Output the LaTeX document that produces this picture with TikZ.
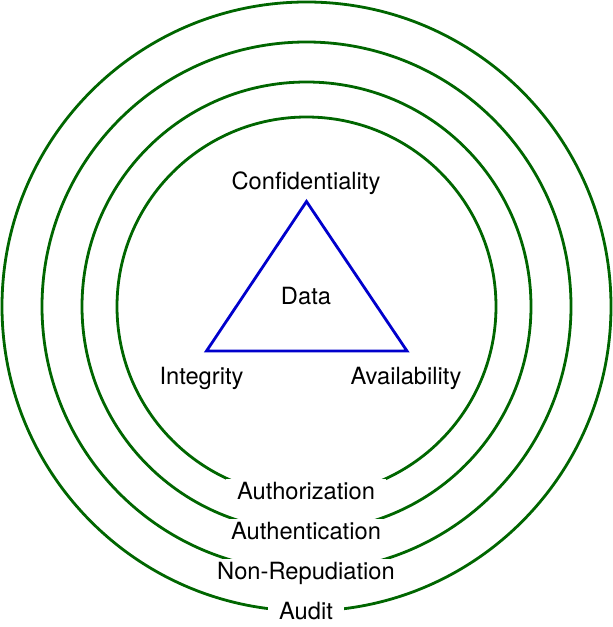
\documentclass[tikz,border=0pt]{standalone}
\usepackage{fontspec}
\setmainfont{TeX Gyre Heros}
\definecolor{ringgreen}{RGB}{0,102,0}
\definecolor{triblue}{RGB}{0,0,204}

\begin{document}
\begin{tikzpicture}[x=0.5pt, y=0.5pt,
    lbl/.style={font=\fontsize{11.85}{14}\selectfont, anchor=base},
    ring/.style={ringgreen, line width=1.4pt},
    ringlbl/.style={lbl, fill=white, inner xsep=5.5pt, inner ysep=2pt}]
    \useasboundingbox (0,0) rectangle (613,627);

    \coordinate (O) at (306.5, 320.5);
    \coordinate (C) at (306.5, 425.5);
    \coordinate (I) at (206.5, 276);
    \coordinate (A) at (407, 276);

    \foreach \r in {304.5, 264.5, 224.5, 189.5}
        \draw[ring] (O) circle (\r);

    \draw[triblue, line width=1.4pt] (C) -- (I) -- (A) -- cycle;

    \node[lbl] (conf) at (306, 437) {Confidentiality};
    \node[lbl] (data) at (306, 322) {Data};
    \node[lbl] (integ) at (201.5, 242) {Integrity};
    \node[lbl] (avail) at (406, 242) {Availability};

    \node[ringlbl] (authz) at (306, 127) {Authorization};
    \node[ringlbl] (authn) at (306, 87) {Authentication};
    \node[ringlbl] (nonrep) at (306, 47) {Non-Repudiation};
    \node[ringlbl] (audit) at (306, 7.5) {Audit};
\end{tikzpicture}
\end{document}
